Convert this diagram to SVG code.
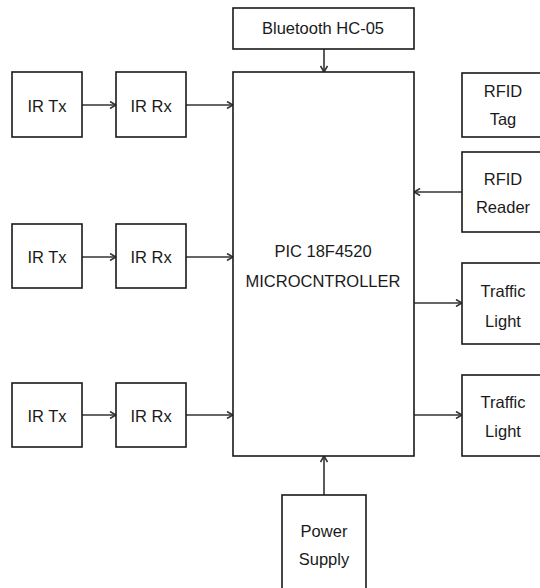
<svg xmlns="http://www.w3.org/2000/svg" width="540" height="588" viewBox="0 0 540 588">
<defs>
<style>
.box{fill:#fff;stroke:#1a1a1a;stroke-width:1.6}
.lbl{font-family:"Liberation Sans",Arial,sans-serif;font-size:16.5px;fill:#1a1a1a;text-anchor:middle}
.con{stroke:#333;stroke-width:1.6;fill:none;marker-end:url(#arr)}
</style>
<marker id="arr" viewBox="0 0 8 8" refX="7" refY="4" markerWidth="8" markerHeight="8" markerUnits="userSpaceOnUse" orient="auto">
<path d="M1,0.5 L7,4 L1,7.5" fill="none" stroke="#333" stroke-width="1.6"/>
</marker>
</defs>
<rect width="540" height="588" fill="#fff"/>
<g id="connectors">
<line class="con" x1="82" y1="105" x2="116" y2="105"/>
<line class="con" x1="186" y1="105" x2="233" y2="105"/>
<line class="con" x1="82" y1="257" x2="116" y2="257"/>
<line class="con" x1="186" y1="257" x2="233" y2="257"/>
<line class="con" x1="82" y1="415" x2="116" y2="415"/>
<line class="con" x1="186" y1="415" x2="233" y2="415"/>
<line class="con" x1="324" y1="49" x2="324" y2="72"/>
<line class="con" x1="462" y1="192" x2="414" y2="192"/>
<line class="con" x1="414" y1="303" x2="462" y2="303"/>
<line class="con" x1="414" y1="415" x2="462" y2="415"/>
<line class="con" x1="324" y1="495" x2="324" y2="456"/>
</g>
<g id="bluetooth">
<rect class="box" x="233" y="8" width="181" height="41"/>
<text class="lbl" x="323" y="34">Bluetooth HC-05</text>
</g>
<g id="mcu">
<rect class="box" x="233" y="72" width="181" height="384"/>
<text class="lbl" x="323" y="257">PIC 18F4520</text>
<text class="lbl" x="323" y="287">MICROCNTROLLER</text>
</g>
<g id="irtx1">
<rect class="box" x="12" y="72" width="70" height="65"/>
<text class="lbl" x="47" y="112">IR Tx</text>
</g>
<g id="irrx1">
<rect class="box" x="116" y="72" width="70" height="65"/>
<text class="lbl" x="151" y="112">IR Rx</text>
</g>
<g id="irtx2">
<rect class="box" x="12" y="224" width="70" height="64"/>
<text class="lbl" x="47" y="263">IR Tx</text>
</g>
<g id="irrx2">
<rect class="box" x="116" y="224" width="70" height="64"/>
<text class="lbl" x="151" y="263">IR Rx</text>
</g>
<g id="irtx3">
<rect class="box" x="12" y="383" width="70" height="64"/>
<text class="lbl" x="47" y="422">IR Tx</text>
</g>
<g id="irrx3">
<rect class="box" x="116" y="383" width="70" height="64"/>
<text class="lbl" x="151" y="422">IR Rx</text>
</g>
<g id="rfidtag">
<rect class="box" x="462" y="73" width="84" height="64"/>
<text class="lbl" x="503" y="97">RFID</text>
<text class="lbl" x="503" y="125">Tag</text>
</g>
<g id="rfidreader">
<rect class="box" x="462" y="152" width="84" height="80"/>
<text class="lbl" x="503" y="185">RFID</text>
<text class="lbl" x="503" y="213">Reader</text>
</g>
<g id="traffic1">
<rect class="box" x="462" y="263" width="84" height="81"/>
<text class="lbl" x="503" y="297">Traffic</text>
<text class="lbl" x="503" y="327">Light</text>
</g>
<g id="traffic2">
<rect class="box" x="462" y="375" width="84" height="81"/>
<text class="lbl" x="503" y="408">Traffic</text>
<text class="lbl" x="503" y="437">Light</text>
</g>
<g id="power">
<rect class="box" x="282" y="495" width="84" height="100"/>
<text class="lbl" x="324" y="537">Power</text>
<text class="lbl" x="324" y="565">Supply</text>
</g>
</svg>
